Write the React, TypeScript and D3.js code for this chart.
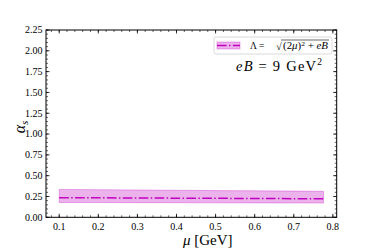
import React from "react";
import * as d3 from "d3";

const muValues = [0.1, 0.2, 0.3, 0.4, 0.5, 0.6, 0.7, 0.776];
const alphaCenter = [0.236, 0.234, 0.232, 0.23, 0.228, 0.226, 0.224, 0.222];
const alphaUpper = [0.335, 0.332, 0.328, 0.325, 0.321, 0.318, 0.315, 0.312];
const alphaLower = [0.178, 0.177, 0.176, 0.175, 0.174, 0.173, 0.172, 0.171];
const xTicks = [0.1, 0.2, 0.3, 0.4, 0.5, 0.6, 0.7, 0.8];
const yTicks = [0, 0.25, 0.5, 0.75, 1.0, 1.25, 1.5, 1.75, 2.0, 2.25];

const W = 374;
const H = 249;
const L = 46, R = 336.7, T = 30, B = 217.3;
const COLOR = "#c000c0";
const FONT = "'Liberation Serif', 'DejaVu Serif', serif";

export default function App() {
  const x = d3.scaleLinear().domain([0.0662, 0.8098]).range([L, R]);
  const y = d3.scaleLinear().domain([0, 2.25]).range([B, T]);
  const pts = muValues.map((m, i) => ({ m, c: alphaCenter[i], u: alphaUpper[i], l: alphaLower[i] }));
  const area = d3.area<any>().x(d => x(d.m)).y0(d => y(d.l)).y1(d => y(d.u));
  const line = d3.line<any>().x(d => x(d.m)).y(d => y(d.c));
  const xMinor = d3.range(0.08, 0.81, 0.02).filter(v => v >= x.domain()[0] && v <= x.domain()[1]);
  const yMinor = d3.range(0, 2.2501, 0.05);
  const dash = "9.6,2.4,1.5,2.4";
  const tk = "#000";
  return (
    <svg width={W} height={H} style={{ position: "absolute", left: 0, top: 0, background: "#fff" }}>
      <path d={area(pts) || ""} fill={COLOR} fillOpacity={0.3} stroke={COLOR} strokeOpacity={0.3} strokeWidth={1} />
      <path d={line(pts) || ""} fill="none" stroke={COLOR} strokeWidth={1.5} strokeDasharray={dash} />
      {xMinor.map((v, i) => (
        <g key={"xm" + i}>
          <line x1={x(v)} x2={x(v)} y1={B} y2={B - 2} stroke={tk} strokeWidth={0.6} />
          <line x1={x(v)} x2={x(v)} y1={T} y2={T + 2} stroke={tk} strokeWidth={0.6} />
        </g>
      ))}
      {yMinor.map((v, i) => (
        <g key={"ym" + i}>
          <line x1={L} x2={L + 2} y1={y(v)} y2={y(v)} stroke={tk} strokeWidth={0.6} />
          <line x1={R} x2={R - 2} y1={y(v)} y2={y(v)} stroke={tk} strokeWidth={0.6} />
        </g>
      ))}
      {xTicks.map((v, i) => (
        <g key={"x" + i}>
          <line x1={x(v)} x2={x(v)} y1={B} y2={B - 3.5} stroke={tk} strokeWidth={0.8} />
          <line x1={x(v)} x2={x(v)} y1={T} y2={T + 3.5} stroke={tk} strokeWidth={0.8} />
          <text x={x(v)} y={B + 12.5} fontSize={10} fontFamily={FONT} textAnchor="middle" fill="#000">{v.toFixed(1)}</text>
        </g>
      ))}
      {yTicks.map((v, i) => (
        <g key={"y" + i}>
          <line x1={L} x2={L + 3.5} y1={y(v)} y2={y(v)} stroke={tk} strokeWidth={0.8} />
          <line x1={R} x2={R - 3.5} y1={y(v)} y2={y(v)} stroke={tk} strokeWidth={0.8} />
          <text x={L - 3.5} y={y(v) + 3.3} fontSize={10} fontFamily={FONT} textAnchor="end" fill="#000">{v.toFixed(2)}</text>
        </g>
      ))}
      <rect x={L} y={T} width={R - L} height={B - T} fill="none" stroke="#000" strokeWidth={1} />
      {/* legend */}
      <rect x={214} y={37} width={118} height={17} rx={2} fill="#fff" fillOpacity={0.8} stroke="#d0d0d0" strokeWidth={0.8} />
      <rect x={217} y={42} width={23} height={7} fill={COLOR} fillOpacity={0.3} stroke={COLOR} strokeOpacity={0.3} />
      <line x1={217} x2={240} y1={45.5} y2={45.5} stroke={COLOR} strokeWidth={1.5} strokeDasharray={dash} />
      <text x={250} y={49} fontSize={9.5} fontFamily={FONT} fill="#000">Λ = </text>
      <text x={276} y={49.5} fontSize={10.5} fontFamily={FONT} fill="#000">√</text>
      <text x={283} y={49} fontSize={9.5} fontFamily={FONT} fill="#000" textLength={45} lengthAdjust="spacingAndGlyphs">
        <tspan>(2</tspan>
        <tspan fontStyle="italic">μ</tspan>
        <tspan>)</tspan>
        <tspan fontSize={6.5} dy={-3.5}>2</tspan>
        <tspan dy={3.5}> + </tspan>
        <tspan fontStyle="italic">eB</tspan>
      </text>
      <line x1={281} x2={329} y1={40} y2={40} stroke="#000" strokeWidth={0.6} />
      <text x={236} y={71} fontSize={14.5} fontFamily={FONT} fill="#000" textLength={86} lengthAdjust="spacing">
        <tspan fontStyle="italic">eB</tspan>
        <tspan> = 9 GeV</tspan>
        <tspan fontSize={9.5} dy={-6}>2</tspan>
      </text>
      {/* axis labels */}
      <text x={183} y={245} fontSize={15} fontFamily={FONT} fill="#000">
        <tspan fontStyle="italic">μ</tspan>
        <tspan> [GeV]</tspan>
      </text>
      <g transform="translate(25,127) rotate(-90)">
        <text x={0} y={0} fontSize={16} fontFamily={FONT} textAnchor="middle" fill="#000">
          <tspan fontStyle="italic">α</tspan>
          <tspan fontStyle="italic" fontSize={11} dy={3}>s</tspan>
        </text>
      </g>
    </svg>
  );
}
